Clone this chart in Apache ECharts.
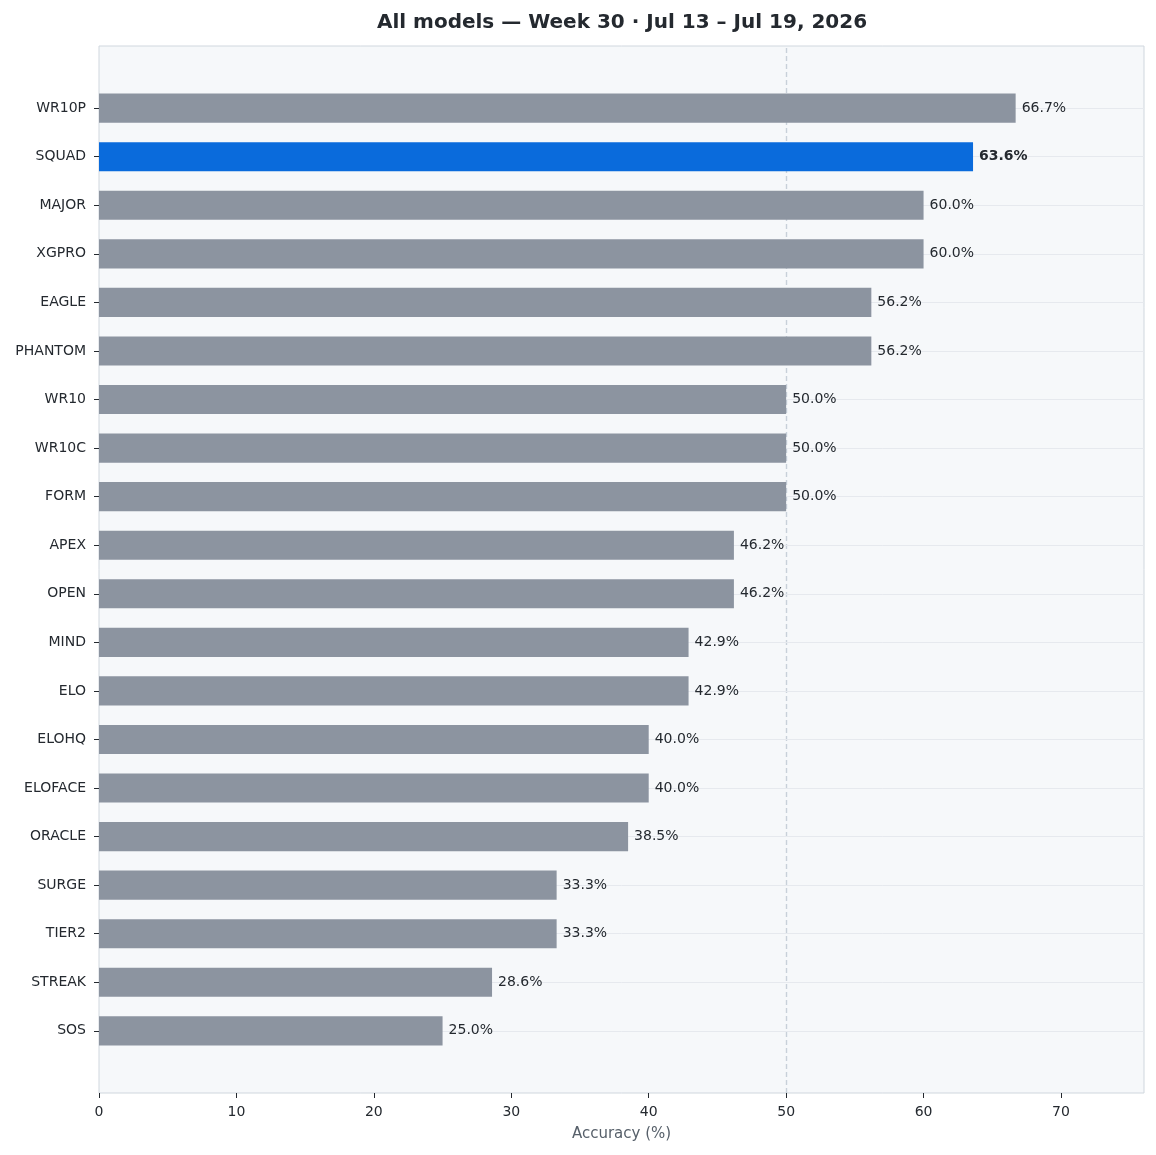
<!DOCTYPE html>
<html>
  <head>
    <meta charset="utf-8" />
    <title>All models — Week 30</title>
    <script src="https://cdnjs.cloudflare.com/ajax/libs/echarts/6.0.0/echarts.min.js"></script>
  </head>
  <body>
    <style>
      html, body { margin: 0; padding: 0; background: #ffffff; }
      #main { width: 1156px; height: 1155px; }
    </style>
    <div id="main"></div>
    <script type="text/javascript">
      // data
      var models = ['WR10P', 'SQUAD', 'MAJOR', 'XGPRO', 'EAGLE', 'PHANTOM', 'WR10', 'WR10C', 'FORM', 'APEX',
                    'OPEN', 'MIND', 'ELO', 'ELOHQ', 'ELOFACE', 'ORACLE', 'SURGE', 'TIER2', 'STREAK', 'SOS'];
      var accuracy = [66.7, 63.6, 60.0, 60.0, 56.2, 56.2, 50.0, 50.0, 50.0, 46.2,
                      46.2, 42.9, 42.9, 40.0, 40.0, 38.5, 33.3, 33.3, 28.6, 25.0];
      var highlight = 'SQUAD';
      var refLine = 50;
      var xMax = 76.04;

      var GRAY = '#8c94a0';
      var BLUE = '#0a6bdc';
      var TEXT = '#24292f';
      var FONT = 'DejaVu Sans';

      // plot frame in px; matplotlib pads 1.28 bands above/below the bars
      var frame = { left: 99, right: 12, top: 46, bottom: 62 };
      var n = models.length;
      var plotH = 1155 - frame.top - frame.bottom;
      var band = plotH / (n - 1 + 2 * 1.28);
      var pad = (1.28 - 0.5) * band;

      var chart = echarts.init(document.getElementById('main'));
      var option = {
        animation: false,
        textStyle: { fontFamily: FONT },
        title: {
          text: 'All models — Week 30 · Jul 13 – Jul 19, 2026',
          left: 617, top: 8, textAlign: 'center',
          textStyle: { fontFamily: FONT, fontSize: 20, fontWeight: 'bold', color: TEXT }
        },
        grid: [
          { left: frame.left, right: frame.right, top: frame.top, bottom: frame.bottom,
            show: true, backgroundColor: '#f6f8fa', borderColor: '#d0d7de', borderWidth: 1, z: 0 },
          { left: frame.left, right: frame.right, top: frame.top + pad, bottom: frame.bottom + pad }
        ],
        xAxis: [
          {
            gridIndex: 0, type: 'value', min: 0, max: xMax, interval: 10,
            axisLine: { show: false },
            axisTick: { show: true, length: 5, lineStyle: { color: TEXT, width: 1 } },
            axisLabel: { fontFamily: FONT, fontSize: 14, color: TEXT, margin: 12, showMaxLabel: false },
            splitLine: { show: false },
            name: 'Accuracy (%)', nameLocation: 'middle', nameGap: 34,
            nameTextStyle: { fontFamily: FONT, fontSize: 15, color: '#57606a' }
          },
          { gridIndex: 1, type: 'value', min: 0, max: xMax, show: false }
        ],
        yAxis: [
          { gridIndex: 0, type: 'value', min: 0, max: 1, show: false },
          {
            gridIndex: 1, type: 'category', data: models, inverse: true,
            axisLine: { show: false },
            axisTick: { show: true, alignWithLabel: true, length: 5, lineStyle: { color: TEXT, width: 1 } },
            axisLabel: { fontFamily: FONT, fontSize: 14, color: TEXT, margin: 13 },
            splitLine: { show: false }
          }
        ],
        series: [
          {
            // reference line at 50%
            type: 'line', xAxisIndex: 0, yAxisIndex: 0, data: [], silent: true, z: 1,
            markLine: {
              silent: true, symbol: 'none', label: { show: false }, z: 1,
              lineStyle: { color: '#c8d0d9', type: [5, 3], width: 1.4 },
              data: [{ xAxis: refLine }]
            }
          },
          {
            // faint horizontal grid lines at each category
            type: 'line', xAxisIndex: 1, yAxisIndex: 1, data: [], silent: true, z: 1,
            markLine: {
              silent: true, symbol: 'none', label: { show: false }, z: 1,
              lineStyle: { color: '#e6e9ee', type: 'solid', width: 1 },
              data: models.map(function (m) { return { yAxis: m }; })
            }
          },
          {
            type: 'bar', xAxisIndex: 1, yAxisIndex: 1, z: 3,
            barWidth: '60%',
            data: accuracy.map(function (v, i) {
              var hi = models[i] === highlight;
              return {
                value: v,
                itemStyle: { color: hi ? BLUE : GRAY },
                label: { fontWeight: hi ? 'bold' : 'normal' }
              };
            }),
            label: {
              show: true, position: 'right', distance: 6,
              fontFamily: FONT, fontSize: 14, color: TEXT,
              formatter: function (p) { return p.value.toFixed(1) + '%'; }
            }
          }
        ]
      };
      chart.setOption(option);
    </script>
  </body>
</html>
